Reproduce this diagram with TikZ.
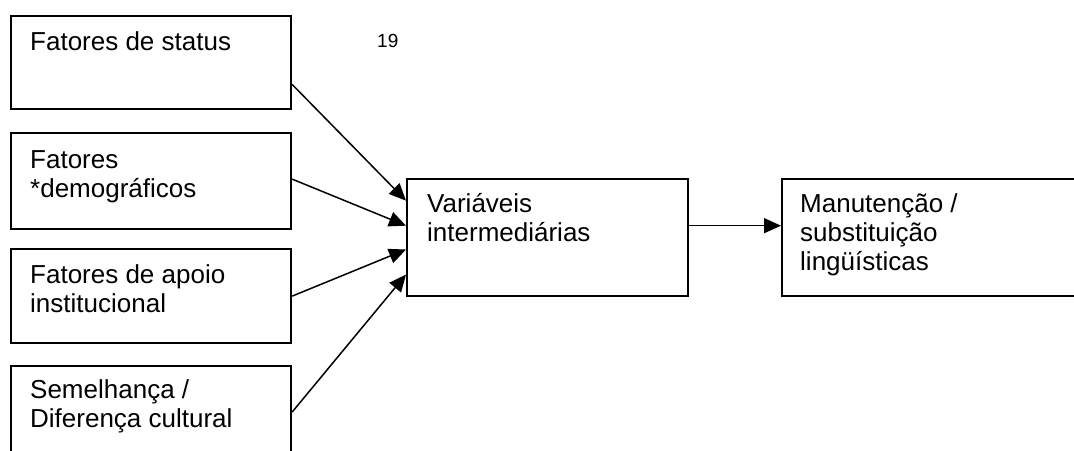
\documentclass[tikz,border=0pt]{standalone}
\usepackage{fontspec}
\setmainfont{Liberation Sans}
\usetikzlibrary{arrows.meta,calc}
\begin{document}
\begin{tikzpicture}[x=1pt,y=-1pt,
  box/.style={draw=black,line width=2.2pt,fill=none,inner sep=0pt,anchor=north west},
  lbl/.style={anchor=base west,inner sep=0pt,align=left,font=\fontsize{26}{29}\selectfont},
  arr/.style={line width=1.5pt,-{Triangle[length=17pt,width=15pt]}}]
\useasboundingbox (0,0) rectangle (1074,450);
\clip (0,0) rectangle (1074,450);
\fill[white] (0,0) rectangle (1074,450);
% boxes
\node[box,minimum width=280pt,minimum height=93pt] (b1) at (10,15) {};
\node[box,minimum width=280pt,minimum height=96pt] (b2) at (10,132) {};
\node[box,minimum width=280pt,minimum height=94pt] (b3) at (10,248) {};
\node[box,minimum width=280pt,minimum height=120pt] (b4) at (10,365) {};
\node[box,minimum width=281pt,minimum height=117pt] (mid) at (406,178) {};
\node[box,minimum width=320pt,minimum height=117pt] (res) at (781,178) {};
% texts (anchored at the baseline of the last line)
\node[lbl] (t1) at (30,50) {Fatores de status};
\node[lbl] (t2) at (30,197) {Fatores\\*demográficos};
\node[lbl] (t3) at (30,312) {Fatores de apoio\\institucional};
\node[lbl] (t4) at (30,427) {Semelhança /\\Diferença cultural};
\node[lbl] (tm) at (427,241) {Variáveis\\intermediárias};
\node[lbl] (tr) at (800,270) {Manutenção /\\substituição\\lingüísticas};
\node[anchor=base west,inner sep=0pt,font=\fontsize{19}{23}\selectfont] (pg) at (377,47) {19};
% connectors
\coordinate (s1) at ($(b1.north east)!0.73!(b1.south east)$);
\coordinate (s2) at ($(b2.north east)!0.48!(b2.south east)$);
\coordinate (s3) at ($(b3.north east)!0.5!(b3.south east)$);
\coordinate (s4) at ([yshift=-47pt]b4.north east);
\coordinate (e1) at ($(mid.north west)!0.19!(mid.south west)$);
\coordinate (e2) at ($(mid.north west)!0.40!(mid.south west)$);
\coordinate (e3) at ($(mid.north west)!0.60!(mid.south west)$);
\coordinate (e4) at ($(mid.north west)!0.81!(mid.south west)$);
\draw[arr] (s1) -- (e1);
\draw[arr] (s2) -- (e2);
\draw[arr] (s3) -- (e3);
\draw[arr] (s4) -- (e4);
\draw[arr] ($(mid.north east)!0.40!(mid.south east)$) -- ($(res.north west)!0.40!(res.south west)$);
\end{tikzpicture}
\end{document}
